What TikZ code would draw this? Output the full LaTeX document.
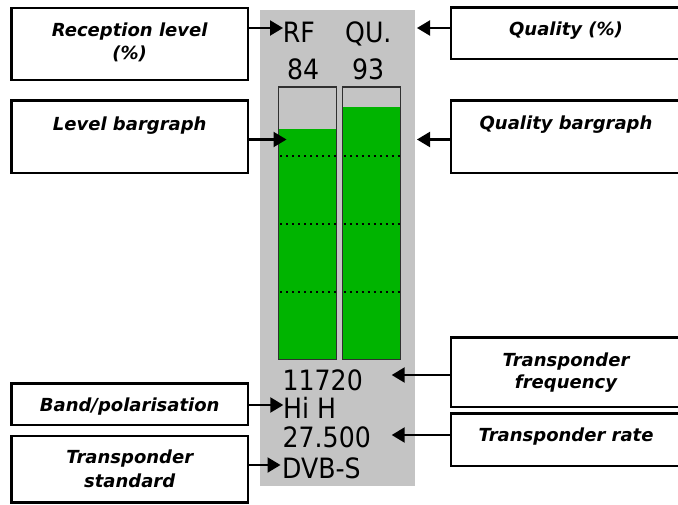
\documentclass[tikz,border=0pt]{standalone}
\usepackage{fontspec}
\setmainfont{DejaVu Sans}
\newfontfamily\panelfont{DejaVu Sans Condensed}
\usetikzlibrary{arrows.meta}
\definecolor{panelgray}{HTML}{C4C4C4}
\definecolor{bargreen}{HTML}{00B400}
\definecolor{barframe}{HTML}{303030}
\tikzset{
  box/.style={draw=black, line width=2.4pt, fill=white, inner sep=0pt},
  lbl/.style={anchor=base, font=\fontsize{18}{18}\selectfont\bfseries\itshape, inner sep=0pt},
  ptxt/.style={anchor=base west, font=\panelfont\fontsize{28}{28}\selectfont, inner sep=0pt},
  arr/.style={line width=2.2pt, -{Triangle[length=13pt,width=15pt]}},
  dots/.style={line width=2pt, dash pattern=on 2pt off 4pt, black},
  bar/.style={draw=barframe, line width=1.2pt}
}
\begin{document}
\begin{tikzpicture}[x=1pt,y=-1pt]
\useasboundingbox (0,0) rectangle (678,504);
% panel
\fill[panelgray] (260,10) rectangle (415,486);
% bars
\fill[bargreen] (278.7,129.3) rectangle (336.7,359.3);
\fill[bargreen] (342.3,106.7) rectangle (400.3,359.3);
\foreach \yy in {155.7,223.7,291.7}{
  \draw[dots] (280,\yy) -- (336.7,\yy);
  \draw[dots] (343.6,\yy) -- (400.3,\yy);
}
\draw[bar] (278.7,87) rectangle (336.7,359.3);
\draw[bar] (342.3,87) rectangle (400.3,359.3);
% panel texts
\node[ptxt] (rf) at (282.7,42) {RF};
\node[ptxt] (qu) at (345,42) {QU.};
\node[ptxt] (rfv) at (287,79) {84};
\node[ptxt] (quv) at (352,79) {93};
\node[ptxt] (freq) at (282.5,390) {11720};
\node[ptxt] (band) at (283,418) {Hi H};
\node[ptxt] (rate) at (282.5,447.5) {27.500};
\node[ptxt] (std) at (282,478) {DVB-S};
% left boxes
\node[box, minimum width=236.7pt, minimum height=72pt] (b1) at (129.7,43.7) {};
\node[box, minimum width=236.7pt, minimum height=72.7pt] (b2) at (129.7,136.7) {};
\node[box, minimum width=236.7pt, minimum height=41.3pt] (b3) at (129.7,404.3) {};
\node[box, minimum width=236.7pt, minimum height=66.5pt] (b4) at (129.7,469.3) {};
% right boxes
\node[box, minimum width=230pt, minimum height=51.3pt] (b5) at (566,33.3) {};
\node[box, minimum width=230pt, minimum height=72.7pt] (b6) at (566,136.7) {};
\node[box, minimum width=230pt, minimum height=69.4pt] (b7) at (566,372) {};
\node[box, minimum width=230pt, minimum height=52.4pt] (b8) at (566,439.5) {};
% labels
\node[lbl] (t1a) at (129.7,36) {Reception level};
\node[lbl] (t1b) at (129.7,59) {(\%)};
\node[lbl] (t2) at (129.7,130) {Level bargraph};
\node[lbl] (t3) at (129.7,411.5) {Band/polarisation};
\node[lbl] (t4a) at (129.7,463.5) {Transponder};
\node[lbl] (t4b) at (129.7,487) {standard};
\node[lbl] (t5) at (566,35.5) {Quality (\%)};
\node[lbl] (t6) at (566,129) {Quality bargraph};
\node[lbl] (t7a) at (566,366) {Transponder};
\node[lbl] (t7b) at (566,388) {frequency};
\node[lbl] (t8) at (566,441.5) {Transponder rate};
% arrow tips
\coordinate (p1) at (283,28);
\coordinate (p2) at (286.5,139.5);
\coordinate (p3) at (283.3,405);
\coordinate (p4) at (280.5,465);
\coordinate (p5) at (417,28);
\coordinate (p6) at (417,139.5);
\coordinate (p7) at (391.7,375);
\coordinate (p8) at (391.7,435);
\draw[arr] (b1.east |- p1) -- (p1);
\draw[arr] (b2.east |- p2) -- (p2);
\draw[arr] (b3.east |- p3) -- (p3);
\draw[arr] (b4.east |- p4) -- (p4);
\draw[arr] (b5.west |- p5) -- (p5);
\draw[arr] (b6.west |- p6) -- (p6);
\draw[arr] (b7.west |- p7) -- (p7);
\draw[arr] (b8.west |- p8) -- (p8);
\end{tikzpicture}
\end{document}
